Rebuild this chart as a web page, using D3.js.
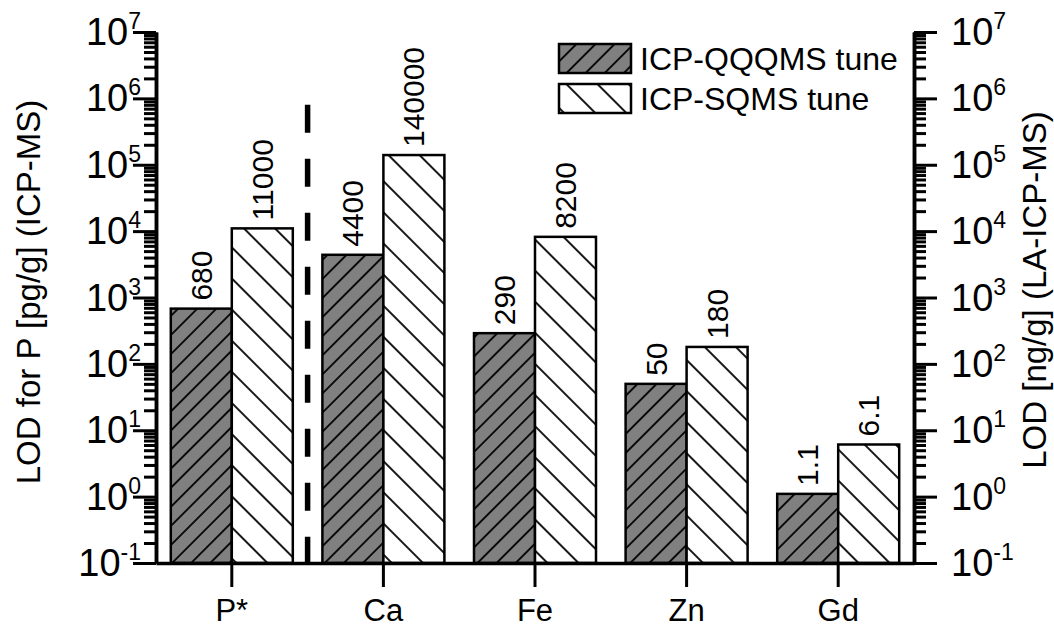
<!DOCTYPE html>
<html><head><meta charset="utf-8">
<script src="https://cdn.jsdelivr.net/npm/d3@7"></script>
<style>
body{margin:0;background:#fff}
text{font-family:Arial,"Liberation Sans",sans-serif;fill:#000}
</style>
</head><body>
<svg id="c" width="1054" height="628"></svg>
<script>
// ---- data ----
const categories = ["P*", "Ca", "Fe", "Zn", "Gd"];
const qqqValues = [680, 4400, 290, 50, 1.1];
const sqValues = [11000, 140000, 8200, 180, 6.1];
const qqqLabels = ["680", "4400", "290", "50", "1.1"];
const sqLabels = ["11000", "140000", "8200", "180", "6.1"];
const yTickExponents = [-1, 0, 1, 2, 3, 4, 5, 6, 7];
const seriesNames = ["ICP-QQQMS tune", "ICP-SQMS tune"];
const leftTitle = "LOD for P [pg/g] (ICP-MS)";
const rightTitle = "LOD [ng/g] (LA-ICP-MS)";

// ---- layout ----
const svg = d3.select("#c");
const L = 156, R = 914, T = 32, B = 563;
const y = d3.scaleLog().domain([0.1, 1e7]).range([B, T]);
const x = d3.scaleBand().domain(categories).range([L, R]).padding(0);
const barW = 61;
const cx = c => x(c) + x.bandwidth() / 2;

// patterns
const defs = svg.append("defs");
function hatch(id, spacing, angle, bg) {
  const p = defs.append("pattern").attr("id", id)
    .attr("patternUnits", "userSpaceOnUse")
    .attr("width", spacing).attr("height", spacing)
    .attr("patternTransform", `rotate(${angle})`);
  p.append("rect").attr("width", spacing).attr("height", spacing).attr("fill", bg);
  p.append("line").attr("x1", spacing / 2).attr("y1", 0).attr("x2", spacing / 2).attr("y2", spacing)
    .attr("stroke", "#000").attr("stroke-width", 1.8);
}
hatch("hDark", 13.5, 45, "#808080");
hatch("hLight", 22, -45, "#ffffff");

const fills = ["url(#hDark)", "url(#hLight)"];
const series = [qqqValues, sqValues];
const labels = [qqqLabels, sqLabels];

// bars
series.forEach((vals, si) => {
  const g = svg.append("g");
  g.selectAll("rect").data(categories).join("rect")
    .attr("x", (c) => si === 0 ? cx(c) - barW : cx(c))
    .attr("y", (c, i) => y(vals[i]))
    .attr("width", barW)
    .attr("height", (c, i) => B - y(vals[i]))
    .attr("fill", fills[si])
    .attr("stroke", "#000").attr("stroke-width", 2.5);
  g.selectAll("text").data(categories).join("text")
    .attr("transform", (c, i) => {
      const tx = si === 0 ? cx(c) - barW / 2 : cx(c) + barW / 2;
      return `translate(${tx},${y(vals[i]) - 8}) rotate(-90)`;
    })
    .attr("dy", "0.35em")
    .attr("font-size", 30)
    .text((c, i) => labels[si][i]);
});

// dashed separator between P* and Ca
const sepX = (cx("P*") + cx("Ca")) / 2;
svg.append("line").attr("x1", sepX).attr("x2", sepX)
  .attr("y1", y(8e5)).attr("y2", B)
  .attr("stroke", "#000").attr("stroke-width", 5.5)
  .attr("stroke-dasharray", "28,26");

// axes
const majors = yTickExponents.map(e => Math.pow(10, e));
const minors = [];
yTickExponents.slice(0, -1).forEach(e => { for (let k = 2; k <= 9; k++) minors.push(k * Math.pow(10, e)); });

function yAxis(gen, tx) {
  const gMin = svg.append("g").attr("transform", `translate(${tx},0)`)
    .call(gen(y).tickValues(minors).tickSize(12).tickSizeOuter(0).tickFormat(""));
  const gMaj = svg.append("g").attr("transform", `translate(${tx},0)`)
    .call(gen(y).tickValues(majors).tickSize(23).tickSizeOuter(0).tickFormat(""));
  [gMin, gMaj].forEach(g => {
    g.selectAll("line").attr("stroke", "#000").attr("stroke-width", 3);
    g.select(".domain").attr("stroke", "#000").attr("stroke-width", 3.5);
  });
  return gMaj;
}
yAxis(d3.axisLeft, L);
yAxis(d3.axisRight, R);

// bottom axis
const gx = svg.append("g").attr("transform", `translate(0,${B})`)
  .call(d3.axisBottom(x).tickSize(24).tickSizeOuter(0).tickFormat(""));
gx.selectAll("line").attr("stroke", "#000").attr("stroke-width", 3);
gx.select(".domain").attr("stroke", "#000").attr("stroke-width", 3.5);

gx.selectAll(".tick").append("text")
  .attr("y", 58).attr("font-size", 31).attr("text-anchor", "middle")
  .attr("fill", "#000")
  .text(d => d);

// y tick labels
function yLabels(xPos, anchor) {
  const t = svg.append("g").selectAll("text").data(yTickExponents).join("text")
    .attr("x", xPos).attr("y", e => y(Math.pow(10, e)) + 13)
    .attr("text-anchor", anchor);
  t.append("tspan").attr("font-size", 38).text("10");
  t.append("tspan").attr("font-size", 23).attr("dy", -16).text(e => e);
}
yLabels(141, "end");
yLabels(951, "start");

// titles
svg.append("text").attr("transform", `translate(28,292) rotate(-90)`)
  .attr("text-anchor", "middle").attr("dy", "0.35em").attr("font-size", 33).text(leftTitle);
svg.append("text").attr("transform", `translate(1034,290) rotate(-90)`)
  .attr("text-anchor", "middle").attr("dy", "0.35em").attr("font-size", 33).text(rightTitle);

// legend
const lg = svg.append("g");
seriesNames.forEach((n, i) => {
  const yy = 44 + i * 40;
  lg.append("rect").attr("x", 559).attr("y", yy).attr("width", 72).attr("height", 29)
    .attr("fill", fills[i]).attr("stroke", "#000").attr("stroke-width", 2.5);
  lg.append("text").attr("x", 640).attr("y", yy + 14.5).attr("dy", "0.35em")
    .attr("font-size", 32).text(n);
});
</script>
</body></html>
